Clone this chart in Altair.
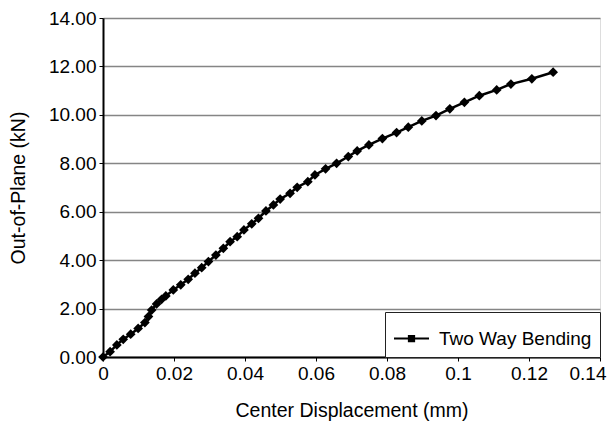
import altair as alt
import pandas as pd

displacement = [0, 0.002, 0.0039, 0.0057, 0.0078, 0.0099, 0.0118, 0.0128, 0.0137, 0.0151,
                0.0165, 0.0177, 0.0198, 0.0219, 0.0240, 0.0259, 0.0278, 0.0297, 0.0318, 0.0339,
                0.0358, 0.0378, 0.0397, 0.0419, 0.0438, 0.0459, 0.0480, 0.0499, 0.0527, 0.0547,
                0.0577, 0.0597, 0.0627, 0.0658, 0.0691, 0.0716, 0.0749, 0.0787, 0.0827, 0.0860,
                0.0898, 0.0938, 0.0977, 0.1018, 0.1060, 0.1109, 0.1149, 0.1208, 0.1268]
load = [0, 0.22, 0.50, 0.73, 0.94, 1.18, 1.42, 1.67, 1.94, 2.19,
        2.38, 2.52, 2.77, 2.98, 3.21, 3.46, 3.69, 3.94, 4.21, 4.49,
        4.76, 4.97, 5.25, 5.50, 5.73, 6.03, 6.28, 6.52, 6.76, 7.01,
        7.24, 7.52, 7.77, 8.00, 8.28, 8.51, 8.76, 9.02, 9.27, 9.49,
        9.75, 9.97, 10.25, 10.52, 10.79, 11.03, 11.27, 11.49, 11.76]
series_name = "Two Way Bending"
x_ticks = [0, 0.02, 0.04, 0.06, 0.08, 0.1, 0.12, 0.14]
y_ticks = [0, 2, 4, 6, 8, 10, 12, 14]

df = pd.DataFrame({"x": displacement, "y": load, "series": series_name})

FONT = "Liberation Sans"
LABEL_SIZE = 19
TITLE_SIZE = 19.5

x_enc = alt.X("x:Q", scale=alt.Scale(domain=[0, 0.14], nice=False),
              axis=alt.Axis(title="Center Displacement (mm)", values=x_ticks, format="~g",
                            grid=False, domainColor="black", domainWidth=2,
                            tickColor="black", tickSize=4, labelPadding=3,
                            labelFontSize=LABEL_SIZE, titleFontSize=TITLE_SIZE,
                            titleFontWeight="normal",
                            labelColor="black", titleColor="black", titlePadding=18,
                            labelFont=FONT, titleFont=FONT, labelOverlap=False,
                            labelFlush=False,
                            labelAlign={"condition": {"test": "datum.value >= 0.139", "value": "right"},
                                        "value": "center"},
                            labelOffset={"condition": {"test": "datum.value >= 0.139", "value": 6},
                                         "value": 0}))
y_enc = alt.Y("y:Q", scale=alt.Scale(domain=[0, 14], nice=False),
              axis=alt.Axis(title="Out-of-Plane (kN)", values=y_ticks, format=".2f",
                            grid=True, gridColor="#858585", gridWidth=1.6,
                            domainColor="black", domainWidth=2,
                            tickColor="black", tickSize=4, labelPadding=3,
                            labelFontSize=LABEL_SIZE, titleFontSize=TITLE_SIZE,
                            titleFontWeight="normal",
                            labelColor="black", titleColor="black", titlePadding=20,
                            labelFont=FONT, titleFont=FONT))

color_enc = alt.Color("series:N", scale=alt.Scale(range=["black"]),
                      legend=alt.Legend(title=None, orient="bottom-right", offset=0,
                                        symbolType="M-1,0L1,0M-0.15,-0.15L0.15,-0.15L0.15,0.15L-0.15,0.15Z",
                                        symbolSize=1225, symbolStrokeWidth=2,
                                        symbolFillColor="black", symbolStrokeColor="black",
                                        labelFontSize=LABEL_SIZE, labelFont=FONT, labelColor="black",
                                        labelOffset=9,
                                        strokeColor="#222", fillColor="white",
                                        padding=8, cornerRadius=0))

line = alt.Chart(df).mark_line(strokeWidth=2.5).encode(x=x_enc, y=y_enc, color=color_enc)
pts = alt.Chart(df).mark_point(shape="diamond", filled=True, size=95, opacity=1).encode(
    x="x:Q", y="y:Q", color=alt.Color("series:N", legend=None))

chart = (line + pts).properties(
    width=497, height=339,
    autosize=alt.AutoSizeParams(type="none"),
    padding={"left": 95, "top": 10, "right": 8, "bottom": 64},
).configure_view(stroke="black", strokeWidth=2).configure(background="white")

chart.save("out.html", embed_options={"renderer": "svg", "actions": False})
